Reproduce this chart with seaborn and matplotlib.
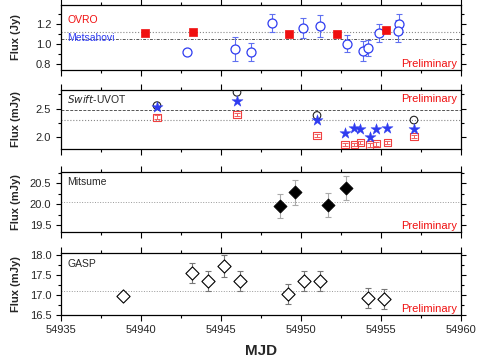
import matplotlib
matplotlib.use("Agg")
import matplotlib.pyplot as plt
import numpy as np
import pandas as pd
import seaborn as sns
from matplotlib.ticker import MultipleLocator

# OVRO / Metsahovi radio (Jy)
ovro_mjd = [54940.25, 54943.27, 54949.25, 54952.27, 54955.3]
ovro_flux = [1.11, 1.12, 1.10, 1.10, 1.14]
mets_mjd = [54942.85, 54945.9, 54946.9, 54948.2, 54950.15, 54951.2,
            54952.9, 54953.9, 54954.17, 54954.9, 54956.1, 54956.05]
mets_flux = [0.92, 0.95, 0.92, 1.21, 1.16, 1.18, 1.00, 0.93, 0.96, 1.11, 1.20, 1.13]
mets_err = [0.0, 0.12, 0.09, 0.09, 0.10, 0.11, 0.085, 0.10, 0.08, 0.09, 0.10, 0.11]

# Swift-UVOT (mJy)
uvot_circ_mjd = [54941.0, 54946.0, 54951.0, 54957.06]
uvot_circ = [2.55, 2.78, 2.38, 2.30]
uvot_star_mjd = [54941.0, 54946.0, 54951.0, 54952.75, 54953.33, 54953.7,
                 54954.3, 54954.7, 54955.4, 54957.06]
uvot_star = [2.52, 2.63, 2.31, 2.07, 2.16, 2.14, 2.00, 2.15, 2.17, 2.14]
uvot_sq_mjd = uvot_star_mjd
uvot_sq = [2.35, 2.40, 2.03, 1.88, 1.88, 1.91, 1.87, 1.89, 1.91, 2.02]
uvot_sq_err = [0.03, 0.03, 0.03, 0.03, 0.03, 0.03, 0.03, 0.03, 0.03, 0.03]

# Mitsume (mJy)
mits_mjd = [54948.7, 54949.6, 54951.7, 54952.8]
mits_flux = [19.96, 20.28, 19.98, 20.38]
mits_err = [0.29, 0.30, 0.28, 0.29]

# GASP (mJy)
gasp_mjd = [54938.85, 54943.2, 54944.2, 54945.2, 54946.2, 54949.2,
            54950.2, 54951.2, 54954.2, 54955.2]
gasp_flux = [16.97, 17.55, 17.35, 17.72, 17.35, 17.02, 17.35, 17.35, 16.92, 16.90]
gasp_err = [0.05, 0.25, 0.25, 0.27, 0.25, 0.25, 0.25, 0.25, 0.25, 0.25]

sns.set_style("ticks")
plt.rcParams["font.family"] = ["Liberation Sans", "DejaVu Sans"]

fig = plt.figure(figsize=(4.85, 3.64), dpi=100)
left, width = 0.1258, 0.8247
ax1 = fig.add_axes([left, 0.8077, width, 0.1786])
ax2 = fig.add_axes([left, 0.5907, width, 0.1620])
ax3 = fig.add_axes([left, 0.3626, width, 0.1648])
ax4 = fig.add_axes([left, 0.1346, width, 0.1703])
axes = [ax1, ax2, ax3, ax4]

blue = "#2f3cf0"
red = "#f01010"

# panel 1
ax1.axhline(1.12, color="#888888", lw=0.8, ls=":")
ax1.axhline(1.05, color="#555555", lw=0.7, ls=(0, (3, 1.5, 1, 1.5)))
ax1.errorbar(mets_mjd, mets_flux, yerr=mets_err, fmt="none", ecolor="#6070f0",
             elinewidth=0.8, capsize=2.5, capthick=0.8)
sns.scatterplot(x=mets_mjd, y=mets_flux, ax=ax1, marker="o", s=42,
                facecolor="white", edgecolor=blue, linewidth=0.9, legend=False,
                zorder=3)
sns.scatterplot(x=ovro_mjd, y=ovro_flux, ax=ax1, marker="s", s=34,
                color=red, edgecolor=red, linewidth=0.5, legend=False, zorder=3)
ax1.set_ylim(0.74, 1.39)
ax1.yaxis.set_major_locator(MultipleLocator(0.2))
ax1.yaxis.set_minor_locator(MultipleLocator(0.1))
ax1.set_ylabel("Flux (Jy)")
ax1.text(0.015, 0.72, "OVRO", transform=ax1.transAxes, color=red, fontsize=7.5)
ax1.text(0.015, 0.45, "Metsahovi", transform=ax1.transAxes, color=blue, fontsize=7.5)
ax1.text(0.99, 0.04, "Preliminary", transform=ax1.transAxes, color=red,
         fontsize=8, ha="right")

# panel 2
ax2.axhline(2.48, color="#555555", lw=0.7, ls=(0, (3, 1.5)))
ax2.axhline(2.30, color="#888888", lw=0.8, ls=":")
ax2.errorbar(uvot_sq_mjd, uvot_sq, yerr=uvot_sq_err, fmt="none", ecolor="#f06060",
             elinewidth=0.7, capsize=2, capthick=0.7, zorder=4)
sns.scatterplot(x=uvot_sq_mjd, y=uvot_sq, ax=ax2, marker="s", s=28,
                facecolor="none", edgecolor="#f04040", linewidth=0.8, legend=False,
                zorder=3)
sns.scatterplot(x=uvot_circ_mjd, y=uvot_circ, ax=ax2, marker="o", s=30,
                facecolor="none", edgecolor="#222222", linewidth=0.8, legend=False,
                zorder=3)
sns.scatterplot(x=uvot_star_mjd, y=uvot_star, ax=ax2, marker="*", s=70,
                color=blue, edgecolor=blue, linewidth=0.3, legend=False, zorder=3)
ax2.set_ylim(1.80, 2.82)
ax2.yaxis.set_major_locator(MultipleLocator(0.5))
ax2.yaxis.set_minor_locator(MultipleLocator(0.25))
ax2.set_ylabel("Flux (mJy)")
ax2.text(0.015, 0.78, "$\\it{Swift}$-UVOT", transform=ax2.transAxes, fontsize=7.5)
ax2.text(0.99, 0.80, "Preliminary", transform=ax2.transAxes, color=red,
         fontsize=8, ha="right")

# panel 3
ax3.axhline(20.06, color="#999999", lw=0.7, ls=":")
ax3.errorbar(mits_mjd, mits_flux, yerr=mits_err, fmt="none", ecolor="#aaaaaa",
             elinewidth=0.8, capsize=2.5, capthick=0.8)
sns.scatterplot(x=mits_mjd, y=mits_flux, ax=ax3, marker="D", s=45,
                color="black", edgecolor="black", linewidth=0.5, legend=False,
                zorder=3)
ax3.set_ylim(19.33, 20.77)
ax3.yaxis.set_major_locator(MultipleLocator(0.5))
ax3.yaxis.set_minor_locator(MultipleLocator(0.25))
ax3.set_ylabel("Flux (mJy)")
ax3.text(0.015, 0.78, "Mitsume", transform=ax3.transAxes, fontsize=7.5)
ax3.text(0.99, 0.05, "Preliminary", transform=ax3.transAxes, color=red,
         fontsize=8, ha="right")

# panel 4
ax4.axhline(17.1, color="#999999", lw=0.7, ls=":")
ax4.errorbar(gasp_mjd, gasp_flux, yerr=gasp_err, fmt="none", ecolor="#777777",
             elinewidth=0.8, capsize=2.5, capthick=0.8)
sns.scatterplot(x=gasp_mjd, y=gasp_flux, ax=ax4, marker="D", s=45,
                facecolor="white", edgecolor="black", linewidth=0.8, legend=False,
                zorder=3)
ax4.set_ylim(16.5, 18.05)
ax4.yaxis.set_major_locator(MultipleLocator(0.5))
ax4.yaxis.set_minor_locator(MultipleLocator(0.25))
ax4.set_ylabel("Flux (mJy)")
ax4.set_xlabel("MJD", fontsize=11, fontweight="bold", labelpad=6)
ax4.text(0.015, 0.78, "GASP", transform=ax4.transAxes, fontsize=7.5)
ax4.text(0.99, 0.05, "Preliminary", transform=ax4.transAxes, color=red,
         fontsize=8, ha="right")

for ax in axes:
    ax.set_xlim(54935, 54960)
    ax.xaxis.set_major_locator(MultipleLocator(5))
    ax.xaxis.set_minor_locator(MultipleLocator(2.5))
    ax.yaxis.label.set_fontsize(8)
    ax.yaxis.label.set_fontweight("bold")
    ax.tick_params(axis="both", which="both", top=True, right=True, labelsize=8,
                   width=0.8, color="black")
    ax.tick_params(axis="x", which="major", direction="out", length=4)
    ax.tick_params(axis="x", which="minor", direction="out", length=2.5)
    ax.tick_params(axis="y", which="major", direction="out", length=3.5)
    ax.tick_params(axis="y", which="minor", direction="out", length=2)
    for s in ax.spines.values():
        s.set_color("black")
        s.set_linewidth(0.9)
    if ax is not ax4:
        ax.tick_params(axis="x", labelbottom=False)
    ax.yaxis.set_label_coords(-0.1, 0.5)

ax4.xaxis.set_major_formatter(matplotlib.ticker.FormatStrFormatter("%d"))

fig.savefig("out.png", dpi=100)
plt.close(fig)
